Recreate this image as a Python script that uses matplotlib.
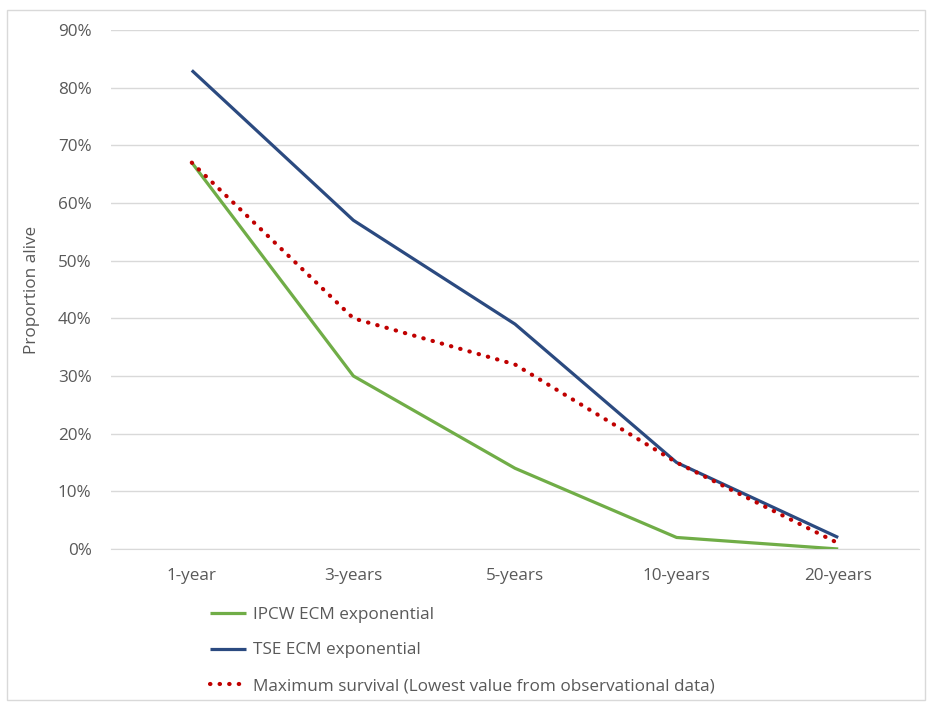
import matplotlib
matplotlib.use("Agg")
import matplotlib.pyplot as plt
from matplotlib.patches import Rectangle
from matplotlib.ticker import FuncFormatter, MultipleLocator

categories = ["1-year", "3-years", "5-years", "10-years", "20-years"]
ipcw = [67, 30, 14, 2, 0]
tse = [83, 57, 39, 15, 2]
max_surv = [67, 40, 32, 15, 1]
labels = ["IPCW ECM exponential", "TSE ECM exponential",
          "Maximum survival (Lowest value from observational data)"]

plt.rcParams['font.family'] = ['Open Sans', 'DejaVu Sans']
txt = '#595959'
fs = 12.3

fig = plt.figure(figsize=(9.28, 7.06), dpi=100)
ax = fig.add_axes([111/928, 1-549/706, 808/928, 519/706])

x = list(range(len(categories)))
l1, = ax.plot(x, ipcw, color='#70AD47', lw=2.3, solid_capstyle='butt', zorder=3)
l2, = ax.plot(x, tse, color='#2B4A80', lw=2.3, solid_capstyle='butt', zorder=3)
l3, = ax.plot(x, max_surv, color='#C00000', lw=3.0, linestyle=(0, (0.1, 2.2)),
              dash_capstyle='round', zorder=4)

ax.set_xlim(-0.5, len(categories) - 0.5)
ax.set_ylim(0, 90)
ax.yaxis.set_major_locator(MultipleLocator(10))
ax.yaxis.set_major_formatter(FuncFormatter(lambda v, p: f"{v:.0f}%"))
ax.set_xticks(x)
ax.set_xticklabels(categories)
ax.grid(axis='y', color='#D9D9D9', lw=1)
ax.set_axisbelow(True)
for s in ['top', 'right', 'left']:
    ax.spines[s].set_visible(False)
ax.spines['bottom'].set_color('#D9D9D9')
ax.tick_params(axis='both', length=0, colors=txt, labelsize=fs)
ax.tick_params(axis='x', pad=14)
ax.tick_params(axis='y', pad=14)
ax.set_ylabel("Proportion alive", color=txt, fontsize=fs)
ax.yaxis.set_label_coords(-71/808, 0.5)

leg = fig.legend([l1, l2, l3], labels, loc='upper left',
                 bbox_to_anchor=(203/928, 1-600/706), frameon=False,
                 fontsize=fs, labelcolor=txt, handlelength=2.1,
                 handletextpad=0.45, labelspacing=1.15, borderaxespad=0)

fig.patches.append(Rectangle((7/928, 6/706), 918/928, 690/706,
                             transform=fig.transFigure, fill=False,
                             edgecolor='#D9D9D9', lw=1))

fig.savefig("out.png", dpi=100)
